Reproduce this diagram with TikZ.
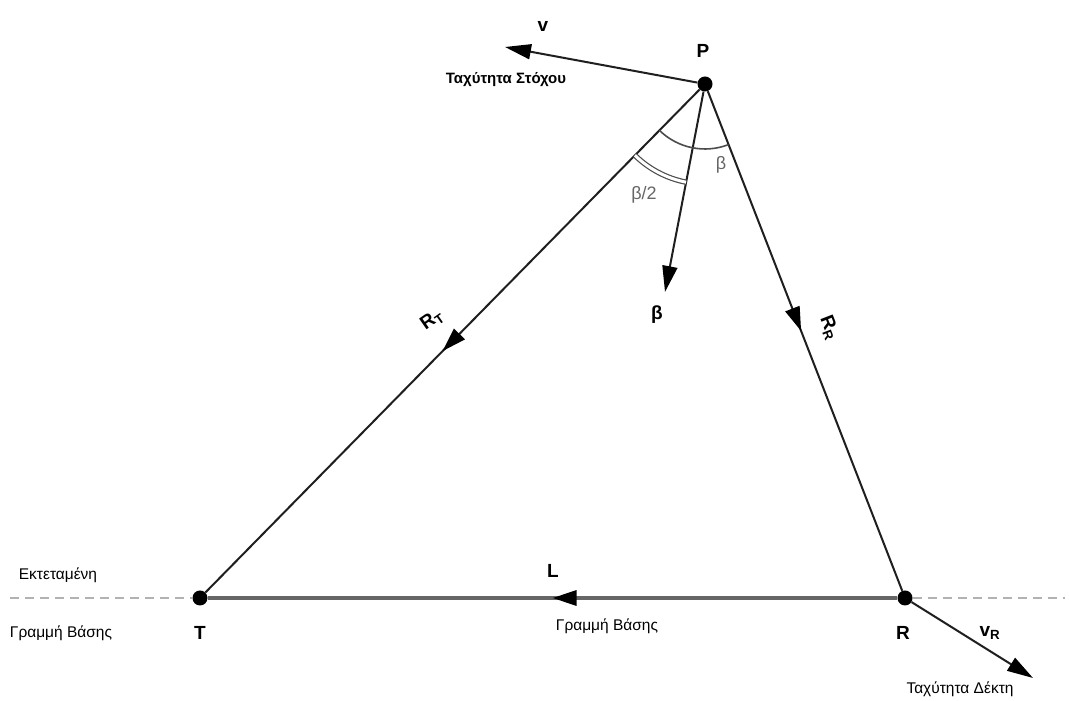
\documentclass[tikz,border=0pt]{standalone}
\usepackage{fontspec}
\setmainfont{Liberation Sans}
\usetikzlibrary{arrows.meta,decorations.markings}
\begin{document}
\begin{tikzpicture}[x=1pt,y=1pt,
  dot/.style={circle,fill=black,inner sep=0pt,minimum size=15pt},
  mainline/.style={draw=black!88,line width=2pt},
  baseline/.style={draw=black!60,line width=3.2pt},
  extline/.style={draw=black!30,line width=2.6pt,dash pattern=on 9pt off 6pt},
  tip/.style={-{Triangle[length=26pt,width=15pt,color=black]}},
  midarrow/.style={postaction={decorate},decoration={markings,
      mark=at position #1 with {\arrow{Triangle[length=24pt,width=15pt,color=black]}}}},
  biglbl/.style={font=\fontsize{19}{21}\selectfont\bfseries},
  lbl/.style={font=\fontsize{15.5}{18}\selectfont},
  blbl/.style={font=\fontsize{15}{18}\selectfont\bfseries},
  glbl/.style={text=black!60,font=\fontsize{18}{20}\selectfont},
  arcline/.style={draw=black!70,line width=1.6pt}
]
\useasboundingbox (0,0) rectangle (1069,701);
\fill[white] (0,0) rectangle (1069,701);
\node[dot] (P) at (705,617) {};
\node[dot] (T) at (200,103) {};
\node[dot] (R) at (905,103) {};
\coordinate (eL) at (10,103);
\coordinate (eR) at (1065,103);
\coordinate (bt) at (665,409);
\coordinate (vt) at (505,654);
\coordinate (vRt) at (1033,23);
% extensions
\draw[extline] (eL) -- (T);
\draw[extline] (R) -- (eR);
% triangle sides
\draw[baseline,midarrow=0.5] (R) -- (T);
\draw[mainline,midarrow=0.52] (P) -- (T);
\draw[mainline,midarrow=0.48] (P) -- (R);
% bisector and velocities
\draw[mainline,tip] (P) -- (bt);
\draw[mainline,tip] (P) -- (vt);
\draw[mainline,tip] (R) -- (vRt);
% angle arcs
\draw[arcline] (P.center) ++(225.5:65) arc[start angle=225.5,end angle=291.3,radius=65];
\draw[arcline,double=white,double distance=3pt,line width=1.2pt] (P.center) ++(225.5:100) arc[start angle=225.5,end angle=259.1,radius=100];
% labels
\node[biglbl] (lP) at (703,650) {P};
\node[biglbl] (lv) at (543,675) {v};
\node[blbl] (lvt) at (506,621) {Ταχύτητα Στόχου};
\node[glbl] (lb1) at (721,536) {β};
\node[glbl] (lb2) at (644,506) {β/2};
\node[biglbl] (lb3) at (657,386) {β};
\node[biglbl,rotate=35] (lRT) at (432,381) {R\textsubscript{T}};
\node[biglbl,rotate=-68.7] (lRR) at (829,373) {R\textsubscript{R}};
\node[biglbl] (lL) at (553,130) {L};
\node[lbl] (lgb) at (607,75) {Γραμμή Βάσης};
\node[lbl] (lext) at (58,126) {Εκτεταμένη};
\node[lbl] (lgb2) at (61,68) {Γραμμή Βάσης};
\node[biglbl] (lT) at (200,68) {T};
\node[biglbl] (lR) at (903,68) {R};
\node[biglbl] (lvR) at (990,68) {v\textsubscript{R}};
\node[lbl] (lvd) at (960,12) {Ταχύτητα Δέκτη};
\end{tikzpicture}
\end{document}
